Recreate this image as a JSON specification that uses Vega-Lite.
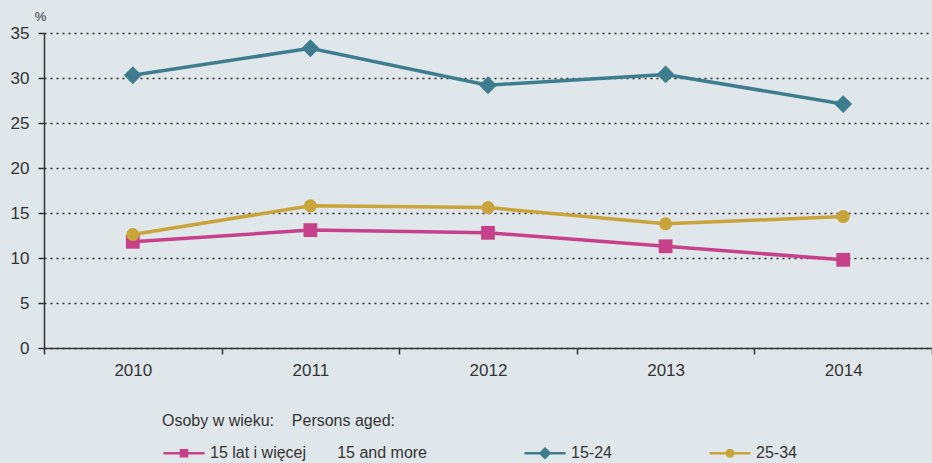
{
  "$schema": "https://vega.github.io/schema/vega-lite/v6.json",
  "width": 888,
  "height": 315,
  "autosize": {"type": "none"},
  "padding": {"left": 44, "top": 33, "right": 0, "bottom": 115},
  "background": "#e0e7ea",
  "config": {
    "view": {"stroke": null},
    "font": "Liberation Sans",
    "axis": {"labelFont": "Liberation Sans", "labelColor": "#333333", "labelFontSize": 17, "titleFont": "Liberation Sans"}
  },
  "data": {
    "values": [
      {"year": "2010", "series": "15 lat i więcej", "value": 11.8},
      {"year": "2011", "series": "15 lat i więcej", "value": 13.1},
      {"year": "2012", "series": "15 lat i więcej", "value": 12.8},
      {"year": "2013", "series": "15 lat i więcej", "value": 11.3},
      {"year": "2014", "series": "15 lat i więcej", "value": 9.8},
      {"year": "2010", "series": "15-24", "value": 30.3},
      {"year": "2011", "series": "15-24", "value": 33.3},
      {"year": "2012", "series": "15-24", "value": 29.2},
      {"year": "2013", "series": "15-24", "value": 30.4},
      {"year": "2014", "series": "15-24", "value": 27.1},
      {"year": "2010", "series": "25-34", "value": 12.6},
      {"year": "2011", "series": "25-34", "value": 15.8},
      {"year": "2012", "series": "25-34", "value": 15.6},
      {"year": "2013", "series": "25-34", "value": 13.8},
      {"year": "2014", "series": "25-34", "value": 14.6}
    ]
  },
  "encoding": {
    "x": {
      "field": "year", "type": "ordinal",
      "scale": {"type": "band", "paddingInner": 0, "paddingOuter": 0},
      "axis": {
        "title": null, "labelAngle": 0, "tickBand": "extent",
        "domainColor": "#333333", "domainWidth": 1.5,
        "tickColor": "#333333", "tickWidth": 1.5, "tickSize": 6,
        "labelPadding": 8, "labelFontSize": 17
      }
    },
    "y": {
      "field": "value", "type": "quantitative",
      "scale": {"domain": [0, 35], "nice": false},
      "axis": {
        "values": [0, 5, 10, 15, 20, 25, 30, 35],
        "title": "%", "titleAngle": 0, "titleAlign": "center", "titleBaseline": "bottom",
        "titleX": -4, "titleY": -10, "titleFontSize": 13, "titleFontWeight": "normal", "titleColor": "#333333",
        "domainColor": "#333333", "domainWidth": 1.5,
        "tickColor": "#333333", "tickWidth": 1.5, "tickSize": 6,
        "labelPadding": 9, "labelFontSize": 17,
        "grid": true, "gridColor": "#2a2a2a", "gridDash": [2, 4], "gridWidth": 1.5
      }
    },
    "color": {
      "field": "series", "type": "nominal",
      "scale": {"domain": ["15 lat i więcej", "15-24", "25-34"], "range": ["#c6408a", "#3d7d8e", "#c9a43a"]},
      "legend": {
        "orient": "none", "legendX": 118, "legendY": 380, "direction": "horizontal", "columns": 3,
        "title": "Osoby w wieku:\u00a0\u00a0\u00a0\u00a0Persons aged:", "titleFont": "Liberation Sans", "titleFontSize": 16,
        "titleFontWeight": "normal", "titleColor": "#333333", "titlePadding": 2, "titleLimit": 600,
        "labelFont": "Liberation Sans", "labelFontSize": 16, "labelColor": "#333333", "labelLimit": 400,
        "labelOffset": 4,
        "labelExpr": "datum.value === '15 lat i więcej' ? '15 lat i więcej\u00a0\u00a0\u00a0\u00a0\u00a0\u00a0\u00a015 and more' : datum.value",
        "columnPadding": 92, "gridAlign": "each", "symbolSize": 1681, "symbolStrokeWidth": 2.5,
        "encode": {
          "symbols": {
            "update": {
              "shape": {"signal": "datum.value === '15-24' ? 'M-1,0H1M0,-0.22L0.22,0L0,0.22L-0.22,0Z' : datum.value === '25-34' ? 'M0,-0.22L0,-0.22M0,0.22L0,0.22M-1,0H1M0.16,0A0.16,0.16,0,1,1,-0.16,0A0.16,0.16,0,1,1,0.16,0Z' : 'M0,-0.22L0,-0.22M0,0.22L0,0.22M-1,0H1M-0.15,-0.15H0.15V0.15H-0.15Z'"},
              "fill": {"scale": "color", "field": "value"},
              "stroke": {"scale": "color", "field": "value"},
              "fillOpacity": {"value": 1},
              "strokeWidth": {"value": 2.5},
              "strokeCap": {"value": "butt"}
            }
          }
        }
      }
    }
  },
  "layer": [
    {
      "mark": {"type": "line", "strokeWidth": 3.5}
    },
    {
      "transform": [{"filter": "datum.series === '15 lat i więcej'"}],
      "mark": {"type": "point", "filled": true, "opacity": 1, "shape": "square", "size": 190}
    },
    {
      "transform": [{"filter": "datum.series === '15-24'"}],
      "mark": {"type": "point", "filled": true, "opacity": 1, "shape": "diamond", "size": 320}
    },
    {
      "transform": [{"filter": "datum.series === '25-34'"}],
      "mark": {"type": "point", "filled": true, "opacity": 1, "shape": "circle", "size": 170}
    }
  ]
}
